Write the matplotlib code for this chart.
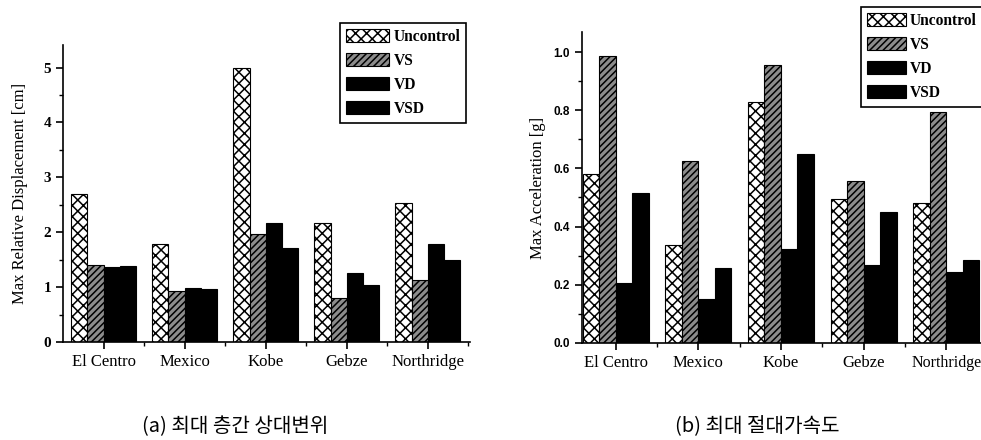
import numpy as np
import matplotlib.pyplot as plt
from matplotlib.ticker import MultipleLocator, FormatStrFormatter

# earthquake records and controller cases
quakes = ['El Centro', 'Mexico', 'Kobe', 'Gebze', 'Northridge']
cases = ['Uncontrol', 'VS', 'VD', 'VSD']

# (a) max relative displacement [cm]
disp_unc = [2.70, 1.78, 5.00, 2.16, 2.54]
disp_vs = [1.41, 0.93, 1.97, 0.80, 1.13]
disp_vd = [1.36, 0.99, 2.17, 1.25, 1.78]
disp_vsd = [1.38, 0.96, 1.71, 1.03, 1.50]

# (b) max absolute acceleration [g]
acc_unc = [0.580, 0.338, 0.829, 0.494, 0.480]
acc_vs = [0.986, 0.625, 0.957, 0.556, 0.793]
acc_vd = [0.206, 0.149, 0.322, 0.266, 0.244]
acc_vsd = [0.514, 0.256, 0.648, 0.451, 0.284]

caption_a = '(a) 최대 층간 상대변위'
caption_b = '(b) 최대 절대가속도'

plt.rcParams['hatch.linewidth'] = 1.1
serif = 'Liberation Serif'

styles = [
    dict(facecolor='white', hatch='xxx'),
    dict(facecolor='#8c8c8c', hatch='/////'),
    dict(facecolor='black', hatch=None),
    dict(facecolor='black', hatch=None),
]

fig = plt.figure(figsize=(9.81, 4.40), dpi=100)
ax1 = fig.add_axes([0.0642, 0.2227, 0.415, 0.675])
ax2 = fig.add_axes([0.593, 0.221, 0.407, 0.706])


def draw(ax, series, ylabel):
    x = np.arange(len(quakes))
    w = 0.2
    for k, vals in enumerate(series):
        ax.bar(x + (k - 1.5) * w, vals, w, edgecolor='black', linewidth=0.8,
               label=cases[k], **styles[k])
    for s in ['top', 'right']:
        ax.spines[s].set_visible(False)
    for s in ['left', 'bottom']:
        ax.spines[s].set_linewidth(1.2)
    ax.set_xticks(x)
    ax.set_xticklabels(quakes, fontfamily=serif, fontsize=12)
    ax.set_xticks(x + 0.5, minor=True)
    ax.tick_params(axis='both', which='major', direction='out', length=5, width=1.2)
    ax.tick_params(axis='both', which='minor', direction='out', length=3, width=1.0)
    ax.set_ylabel(ylabel, fontfamily=serif, fontsize=12)


draw(ax1, [disp_unc, disp_vs, disp_vd, disp_vsd], 'Max Relative Displacement [cm]')
ax1.set_xlim(-0.5, 4.52)
ax1.set_ylim(0, 5.41)
ax1.yaxis.set_major_locator(MultipleLocator(1))
ax1.yaxis.set_minor_locator(MultipleLocator(0.5))
for t in ax1.get_yticklabels():
    t.set_fontfamily(serif)
    t.set_fontweight('bold')
    t.set_fontsize(11)
ax1.yaxis.labelpad = 11

draw(ax2, [acc_unc, acc_vs, acc_vd, acc_vsd], 'Max Acceleration [g]')
ax2.set_xlim(-0.41, 4.42)
ax2.set_ylim(0, 1.069)
ax2.yaxis.set_major_locator(MultipleLocator(0.2))
ax2.yaxis.set_minor_locator(MultipleLocator(0.1))
ax2.yaxis.set_major_formatter(FormatStrFormatter('%.1f'))
for t in ax2.get_yticklabels():
    t.set_fontfamily('Liberation Sans')
    t.set_fontweight('bold')
    t.set_fontsize(8.5)
ax2.yaxis.labelpad = 5
# keep the last label inside the picture
ax2.get_xticklabels()[-1].set_fontsize(11.5)

legend_kw = dict(loc='upper left', frameon=True, fancybox=False, edgecolor='black',
                 framealpha=1, handleheight=0.9, labelspacing=0.52,
                 handletextpad=0.25, borderpad=0.38, borderaxespad=0,
                 prop=dict(family=serif, size=11.2, weight='bold'))
lg1 = ax1.legend(bbox_to_anchor=(0.3466, 0.9477), bbox_transform=fig.transFigure,
                 handlelength=2.8, **legend_kw)
lg2 = ax2.legend(bbox_to_anchor=(0.8777, 0.984), bbox_transform=fig.transFigure,
                 handlelength=2.5, **legend_kw)
for lg in (lg1, lg2):
    lg.get_frame().set_linewidth(1.2)

fig.text(0.240, 0.030, caption_a, ha='center', va='center',
         family=['Noto Sans CJK KR', 'DejaVu Sans'], fontsize=14.5)
fig.text(0.772, 0.030, caption_b, ha='center', va='center',
         family=['Noto Sans CJK KR', 'DejaVu Sans'], fontsize=14.5)

fig.savefig('out.png', dpi=100)
